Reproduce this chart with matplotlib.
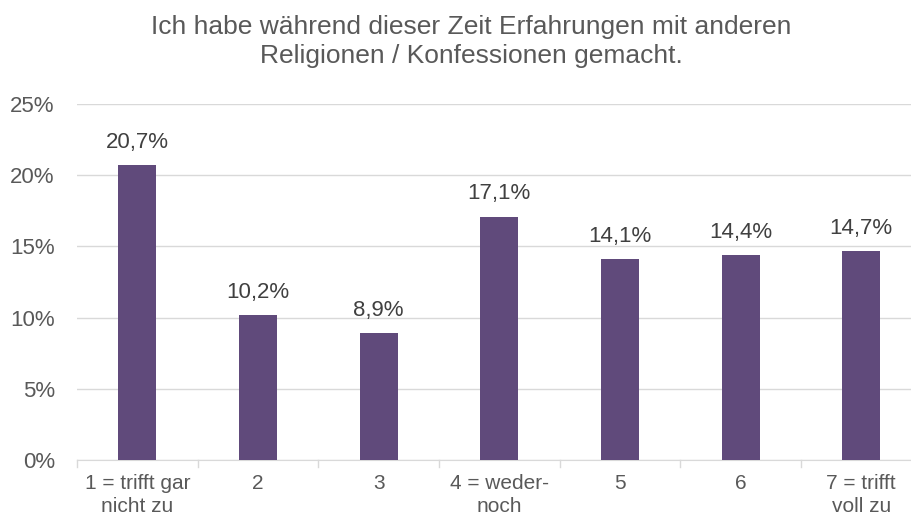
import matplotlib
matplotlib.use("Agg")
import matplotlib.pyplot as plt
from matplotlib.ticker import FuncFormatter

plt.rcParams['font.family'] = ['Liberation Sans', 'DejaVu Sans']

categories = ["1 = trifft gar\nnicht zu", "2", "3", "4 = weder-\nnoch", "5", "6", "7 = trifft\nvoll zu"]
values = [20.7, 10.2, 8.9, 17.1, 14.1, 14.4, 14.7]
labels = ["20,7%", "10,2%", "8,9%", "17,1%", "14,1%", "14,4%", "14,7%"]
title = "Ich habe während dieser Zeit Erfahrungen mit anderen\nReligionen / Konfessionen gemacht."

fig = plt.figure(figsize=(9.11, 5.18), dpi=100)
ax = fig.add_axes([0.0845, 0.112, 0.927, 0.687])

x = range(len(values))
ax.bar(x, values, width=0.315, color='#604A7B', zorder=3)
for i, v in enumerate(values):
    ax.text(i, v + 0.85, labels[i], ha='center', va='bottom', fontsize=16, color='#404040')

ax.set_ylim(0, 25)
ax.set_xlim(-0.5, len(values) - 0.5)
ax.set_yticks([0, 5, 10, 15, 20, 25])
ax.yaxis.set_major_formatter(FuncFormatter(lambda v, p: "%d%%" % v))
ax.grid(axis='y', color='#D9D9D9', linewidth=1, zorder=0)
ax.set_xticks(x)
ax.set_xticklabels(categories, fontsize=15, color='#595959', linespacing=1.3)
ax.tick_params(axis='x', length=0, pad=10)
ax.tick_params(axis='y', length=0, labelsize=16, labelcolor='#595959', pad=16)

# separators between categories
for b in [i - 0.5 for i in range(len(values) + 1)]:
    ax.plot([b, b], [0, -0.5], color='#D9D9D9', linewidth=1, clip_on=False)

for s in ['top', 'right', 'left']:
    ax.spines[s].set_visible(False)
ax.spines['bottom'].set_color('#D9D9D9')

fig.text(0.517, 0.972, title, ha='center', va='top', fontsize=19, color='#595959', linespacing=1.3)

fig.savefig("out.png", dpi=100)
